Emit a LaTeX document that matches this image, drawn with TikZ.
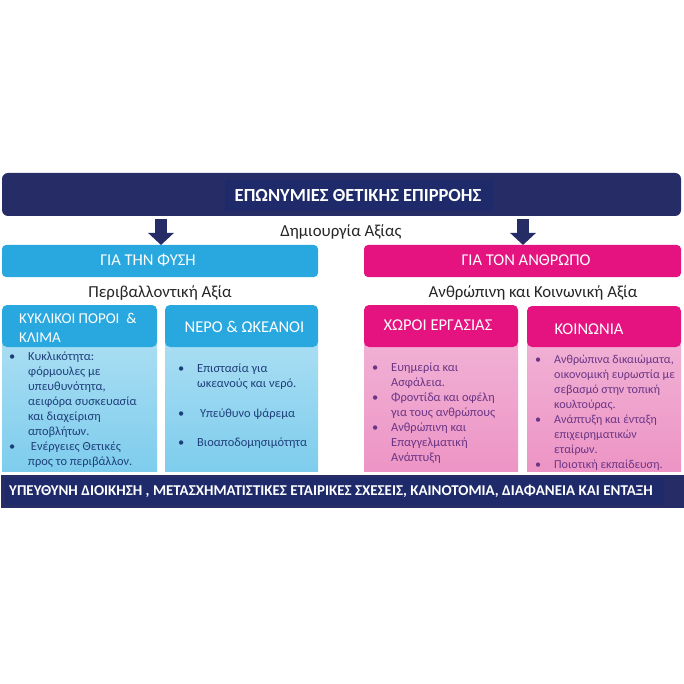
\documentclass[tikz,border=0pt]{standalone}
\usepackage{fontspec}
\setmainfont{Carlito}
\usetikzlibrary{arrows.meta}
\definecolor{navy}{HTML}{262D66}
\definecolor{navyin}{HTML}{1E2A6A}
\definecolor{skyb}{HTML}{29A8E0}
\definecolor{skyl}{HTML}{8DD3EF}
\definecolor{mag}{HTML}{E4137F}
\definecolor{pinkl}{HTML}{EEA3CD}
\definecolor{btext}{HTML}{1F3F7A}
\definecolor{ptext}{HTML}{6A3585}
\tikzset{
  banner/.style={fill=navy, draw=none, rounded corners=6pt},
  bar/.style={draw=none, rounded corners=4pt},
  hdr/.style={draw=none, rounded corners=5pt},
  whitetxt/.style={text=white, font=\fontsize{16.5}{18}\selectfont, inner sep=0pt},
  captxt/.style={text=black!85, font=\fontsize{16.8}{18}\selectfont, inner sep=0pt},
  bodytxt/.style={font=\fontsize{12.4}{15}\selectfont, inner sep=0pt, anchor=north west, align=left},
  fatarrow/.style={draw=navy, line width=12pt, -{Triangle[width=25pt,length=12pt]}}
}
\newcommand{\bl}{\makebox[19pt][l]{\textbullet}}
\newcommand{\ind}{\hspace*{19pt}}
\begin{document}
\begin{tikzpicture}[x=1pt,y=-1pt]
\useasboundingbox (0,0) rectangle (684,684);
\fill[white] (0,0) rectangle (684,684);
% top banner
\path[banner] (2,173) rectangle (681,216);
\fill[navyin] (225,180) rectangle (493,211);
\node[text=white, font=\fontsize{18.5}{20}\selectfont\bfseries, inner sep=0pt] (title) at (358,195.5) {ΕΠΩΝΥΜΙΕΣ ΘΕΤΙΚΗΣ ΕΠΙΡΡΟΗΣ};
\coordinate (tl) at (161,219);
\coordinate (tr) at (523,219);
\coordinate (bl) at (161,245);
\coordinate (br) at (523,245);
% arrows
\draw[fatarrow] (tl) -- (bl);
\draw[fatarrow] (tr) -- (br);
\node[captxt] (dim) at (341,232) {Δημιουργία Αξίας};
% bars
\path[bar, fill=skyb] (2,245) rectangle (318,277);
\path[bar, fill=mag] (364,245) rectangle (681,277);
\node[whitetxt] (fysi) at (148,260) {ΓΙΑ ΤΗΝ ΦΥΣΗ};
\node[whitetxt] (anth) at (526,260) {ΓΙΑ ΤΟΝ ΑΝΘΡΩΠΟ};
\node[captxt] (peri) at (160,293) {Περιβαλλοντική Αξία};
\node[captxt] (koin) at (533,293) {Ανθρώπινη και Κοινωνική Αξία};
% bodies
\shade[top color=skyl!75!white, bottom color=skyl!85!skyb] (2,340) rectangle (157,471);
\shade[top color=skyl!75!white, bottom color=skyl!85!skyb] (165,340) rectangle (318,471);
\shade[top color=pinkl!85!white, bottom color=pinkl!90!mag] (364,340) rectangle (518,471);
\shade[top color=pinkl!85!white, bottom color=pinkl!90!mag] (527,340) rectangle (681,471);
% headers
\path[hdr, fill=skyb] (2,305) rectangle (157,347);
\path[hdr, fill=skyb] (165,305) rectangle (318,347);
\path[hdr, fill=mag] (364,305) rectangle (518,347);
\path[hdr, fill=mag] (527,306) rectangle (681,347);
\node[whitetxt, anchor=west, align=left, font=\fontsize{15}{19}\selectfont] (h1) at (19,327.5) {ΚΥΚΛΙΚΟΙ ΠΟΡΟΙ \ \&\\ΚΛΙΜΑ};
\node[whitetxt] (h2) at (244.5,327) {ΝΕΡΟ \& ΩΚΕΑΝΟΙ};
\node[whitetxt] (h3) at (438,325) {ΧΩΡΟΙ ΕΡΓΑΣΙΑΣ};
\node[whitetxt] (h4) at (589,329) {ΚΟΙΝΩΝΙΑ};
% body texts
\node[bodytxt, text=btext] (b1) at (9,352) {\bl Κυκλικότητα:\\ \ind φόρμουλες με\\ \ind υπευθυνότητα,\\ \ind αειφόρα συσκευασία\\ \ind και διαχείριση\\ \ind αποβλήτων.\\ \bl\ Ενέργειες Θετικές\\ \ind προς το περιβάλλον.};
\node[bodytxt, text=btext] (b2) at (178,364) {\bl Επιστασία για\\ \ind ωκεανούς και νερό.\\[15pt] \bl\ Υπεύθυνο ψάρεμα\\[14pt] \bl Βιοαποδομησιμότητα};
\node[bodytxt, text=ptext] (b3) at (372,363) {\bl Ευημερία και\\ \ind Ασφάλεια.\\ \bl Φροντίδα και οφέλη\\ \ind για τους ανθρώπους\\ \bl Ανθρώπινη και\\ \ind Επαγγελματική\\ \ind Ανάπτυξη};
\node[bodytxt, text=ptext, font=\fontsize{12.1}{15}\selectfont] (b4) at (535,355) {\bl Ανθρώπινα δικαιώματα,\\ \ind οικονομική ευρωστία με\\ \ind σεβασμό στην τοπική\\ \ind κουλτούρας.\\ \bl Ανάπτυξη και ένταξη\\ \ind επιχειρηματικών\\ \ind εταίρων.\\ \bl Ποιοτική εκπαίδευση.};
% bottom bar
\fill[navy] (1,475) rectangle (684,508);
\fill[navyin] (5,478) rectangle (664,505);
\node[text=white, font=\fontsize{15}{16}\selectfont\bfseries, inner sep=0pt, anchor=west] (bot) at (9,491.5) {ΥΠΕΥΘΥΝΗ ΔΙΟΙΚΗΣΗ , ΜΕΤΑΣΧΗΜΑΤΙΣΤΙΚΕΣ ΕΤΑΙΡΙΚΕΣ ΣΧΕΣΕΙΣ, ΚΑΙΝΟΤΟΜΙΑ, ΔΙΑΦΑΝΕΙΑ ΚΑΙ ΕΝΤΑΞΗ};
\end{tikzpicture}
\end{document}
